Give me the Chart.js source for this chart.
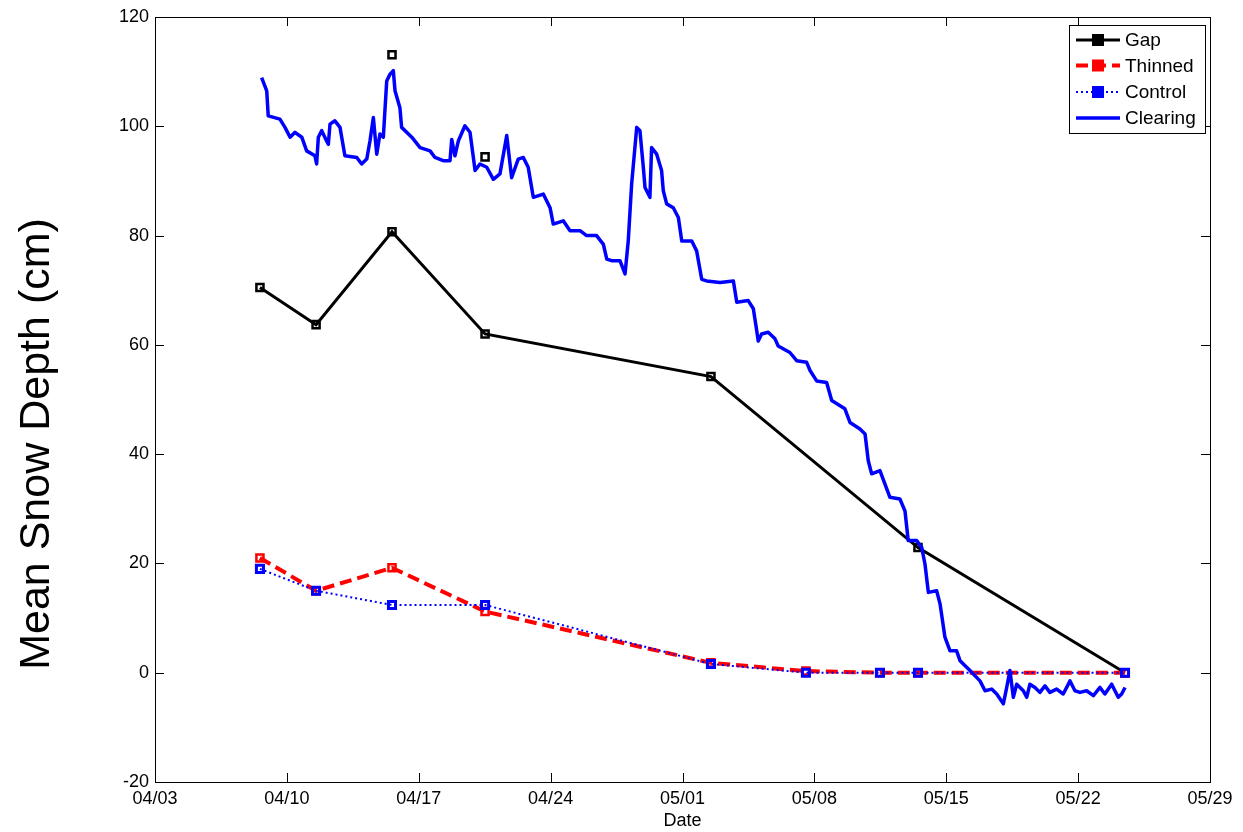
<!DOCTYPE html>
<html>
<head>
<meta charset="utf-8">
<script src="https://cdn.jsdelivr.net/npm/chart.js@4/dist/chart.umd.min.js"></script>
<style>
  html, body { margin: 0; padding: 0; background: #ffffff; }
  #wrap { width: 1243px; height: 832px; }
</style>
</head>
<body>
<div id="wrap"><canvas id="c" width="1243" height="832"></canvas></div>
<script>
// ---- data (x = days since 04/03) ----
const tickLabels = ['04/03','04/10','04/17','04/24','05/01','05/08','05/15','05/22','05/29'];

const gapDays  = [5.57, 8.55, 12.58, 17.52, 29.51, 40.50, 51.49];
const gapDepth = [70.5, 63.7, 80.7, 62.0, 54.2, 22.9, 0.0];

const plotDays     = [5.57, 8.55, 12.58, 17.52, 29.51, 34.55, 38.48, 40.50, 51.49];
const thinnedDepth = [21.0, 15.0, 19.2, 11.2, 1.8, 0.3, 0.0, 0.0, 0.0];
const controlDepth = [19.0, 15.0, 12.4, 12.4, 1.6, 0.0, 0.0, 0.0, 0.0];

const manualDays  = [12.58, 17.52];
const manualDepth = [113.1, 94.4];

const clearingDays = [
  5.66, 5.93, 6.01, 6.63, 6.90, 7.17, 7.43, 7.79, 8.05, 8.49, 8.58, 8.67, 8.85, 9.11, 9.20, 9.29,
  9.55, 9.82, 10.08, 10.71, 10.97, 11.24, 11.41, 11.59, 11.77, 11.94, 12.12, 12.30, 12.47, 12.65,
  12.74, 13.00, 13.09, 13.63, 14.07, 14.60, 14.86, 15.30, 15.66, 15.75, 15.92, 16.10, 16.45, 16.72,
  16.99, 17.25, 17.61, 17.96, 18.31, 18.67, 18.93, 19.28, 19.55, 19.81, 20.08, 20.61, 20.97, 21.14,
  21.67, 22.03, 22.56, 22.91, 23.44, 23.80, 23.98, 24.24, 24.68, 24.95, 25.12, 25.30, 25.57, 25.74,
  25.92, 26.01, 26.27, 26.36, 26.63, 26.89, 26.98, 27.16, 27.51, 27.78, 27.96, 28.49, 28.75, 29.02,
  29.28, 29.99, 30.70, 30.88, 31.49, 31.76, 31.94, 32.02, 32.20, 32.55, 32.91, 33.08, 33.70, 34.06,
  34.59, 34.77, 35.12, 35.65, 35.92, 36.62, 36.89, 37.42, 37.69, 37.86, 38.04, 38.48, 39.01, 39.54,
  39.81, 39.98, 40.43, 40.70, 40.87, 41.05, 41.49, 41.67, 41.93, 42.20, 42.55, 42.73, 43.26, 43.79,
  44.06, 44.41, 44.68, 45.03, 45.21, 45.38, 45.56, 45.74, 46.09, 46.27, 46.44, 46.71, 46.97, 47.24,
  47.50, 47.86, 48.21, 48.57, 48.83, 49.10, 49.45, 49.81, 50.16, 50.42, 50.78, 51.13, 51.31, 51.49
];
const clearingDepth = [
  108.9, 106.5, 101.9, 101.3, 99.8, 98.0, 98.9, 98.0, 95.5, 94.6, 93.1, 98.0, 99.2, 97.3, 96.7, 100.4,
  101.0, 99.8, 94.6, 94.3, 93.1, 94.0, 97.3, 101.6, 94.9, 98.6, 98.0, 108.3, 109.5, 110.2,
  106.5, 103.4, 99.8, 98.0, 96.1, 95.5, 94.3, 93.7, 93.7, 97.6, 94.6, 97.3, 100.1, 98.9,
  91.9, 93.1, 92.5, 90.3, 91.3, 98.3, 90.6, 94.0, 94.3, 92.5, 87.0, 87.6, 85.1, 82.1,
  82.7, 80.9, 80.9, 80.0, 80.0, 78.4, 75.7, 75.4, 75.4, 73.0, 79.0, 89.4, 99.8, 99.2,
  92.5, 88.8, 87.0, 96.1, 94.9, 91.9, 88.2, 85.8, 85.1, 83.3, 79.0, 79.0, 77.2, 72.0,
  71.7, 71.4, 71.7, 67.8, 68.1, 66.6, 62.6, 60.7, 62.0, 62.3, 61.1, 59.8, 58.6, 57.1,
  56.8, 55.3, 53.4, 53.1, 49.8, 48.3, 45.8, 44.6, 43.7, 38.8, 36.4, 37.0, 32.1, 31.8,
  29.6, 24.2, 24.2, 22.9, 19.9, 14.7, 15.0, 12.6, 6.5, 4.0, 4.0, 2.2, 0.4, -1.5,
  -3.3, -3.0, -3.9, -5.7, -2.7, 0.4, -4.5, -2.1, -3.3, -4.5, -2.1, -2.7, -3.6, -2.4,
  -3.6, -3.0, -3.9, -1.5, -3.3, -3.6, -3.3, -4.2, -2.7, -3.9, -2.1, -4.5, -3.9, -2.7
];

const xyPairs = (xs, ys) => xs.map((x, i) => ({ x: x, y: ys[i] }));
const FONT = "'Liberation Sans', Arial, sans-serif";

const frameTicks = {
  id: 'frameTicks',
  afterDatasetsDraw(chart) {
    const { ctx, chartArea: a, scales: { x, y } } = chart;
    ctx.save();
    ctx.strokeStyle = '#000';
    ctx.lineWidth = 1;
    ctx.beginPath();
    const L = 9;
    x.ticks.forEach(t => {
      const px = Math.round(x.getPixelForValue(t.value)) + 0.5;
      ctx.moveTo(px, a.bottom); ctx.lineTo(px, a.bottom - L);
      ctx.moveTo(px, a.top); ctx.lineTo(px, a.top + L);
    });
    y.ticks.forEach(t => {
      const py = Math.round(y.getPixelForValue(t.value)) + 0.5;
      ctx.moveTo(a.left, py); ctx.lineTo(a.left + L, py);
      ctx.moveTo(a.right, py); ctx.lineTo(a.right - L, py);
    });
    ctx.stroke();
    ctx.strokeRect(Math.round(a.left) + 0.5, Math.round(a.top) + 0.5,
                   Math.round(a.right - a.left), Math.round(a.bottom - a.top));
    ctx.restore();
  },
  afterDraw(chart) {
    const ctx = chart.ctx;
    ctx.save();
    // y-axis title
    ctx.translate(37, 444);
    ctx.rotate(-Math.PI / 2);
    ctx.fillStyle = '#000';
    ctx.font = '43px ' + FONT;
    ctx.textAlign = 'center';
    ctx.textBaseline = 'middle';
    ctx.fillText('Mean Snow Depth (cm)', 0, 0);
    ctx.restore();

    // legend
    const bx = 1069, by = 25, bw = 136, bh = 108;
    ctx.save();
    ctx.fillStyle = '#fff';
    ctx.fillRect(bx, by, bw, bh);
    ctx.strokeStyle = '#000';
    ctx.lineWidth = 1;
    ctx.strokeRect(bx + 0.5, by + 0.5, bw, bh);
    const rows = [40, 65.5, 92, 118];
    let r = 0;
    chart.data.datasets.forEach(ds => {
      if (ds.hideInLegend) return;
      const yy = rows[r++];
      ctx.save();
      ctx.strokeStyle = ds.borderColor;
      ctx.lineWidth = ds.borderWidth;
      ctx.setLineDash(ds.borderDash || []);
      ctx.beginPath();
      ctx.moveTo(1076, yy); ctx.lineTo(1120, yy);
      ctx.stroke();
      ctx.setLineDash([]);
      if (ds.pointRadius > 0) {
        const s = ds.pointRadius;
        ctx.fillStyle = ds.pointBorderColor;
        ctx.fillRect(1098 - s - 1, yy - s - 1, 2 * s + 2, 2 * s + 2);
      }
      ctx.restore();
      ctx.fillStyle = '#000';
      ctx.font = '19px ' + FONT;
      ctx.textAlign = 'left';
      ctx.textBaseline = 'middle';
      ctx.fillText(ds.label, 1125, yy + 1);
    });
    ctx.restore();
  }
};

new Chart(document.getElementById('c'), {
  type: 'line',
  data: {
    datasets: [
      {
        label: 'Gap', data: xyPairs(gapDays, gapDepth),
        borderColor: '#000000', borderWidth: 3,
        pointStyle: 'rect', pointRadius: 5, pointBorderWidth: 2.5,
        pointBorderColor: '#000000', pointBackgroundColor: 'rgba(0,0,0,0)',
        order: 4
      },
      {
        label: 'Thinned', data: xyPairs(plotDays, thinnedDepth),
        borderColor: '#ff0000', borderWidth: 4, borderDash: [12, 6],
        pointStyle: 'rect', pointRadius: 5, pointBorderWidth: 2.5,
        pointBorderColor: '#ff0000', pointBackgroundColor: 'rgba(0,0,0,0)',
        order: 3
      },
      {
        label: 'Control', data: xyPairs(plotDays, controlDepth),
        borderColor: '#0000ff', borderWidth: 2, borderDash: [2, 3],
        pointStyle: 'rect', pointRadius: 5, pointBorderWidth: 3,
        pointBorderColor: '#0000ff', pointBackgroundColor: 'rgba(0,0,0,0)',
        order: 2
      },
      {
        label: 'Clearing', data: xyPairs(clearingDays, clearingDepth),
        borderColor: '#0000ff', borderWidth: 3.5,
        pointRadius: 0, borderJoinStyle: 'round',
        order: 1
      },
      {
        label: 'Clearing manual', hideInLegend: true,
        data: xyPairs(manualDays, manualDepth),
        showLine: false, borderColor: '#000000',
        pointStyle: 'rect', pointRadius: 5, pointBorderWidth: 2.5,
        pointBorderColor: '#000000', pointBackgroundColor: 'rgba(0,0,0,0)',
        order: 0
      }
    ]
  },
  options: {
    responsive: false,
    animation: false,
    events: [],
    layout: { padding: { top: 17, right: 33, bottom: 0, left: 0 } },
    plugins: { legend: { display: false }, tooltip: { enabled: false } },
    scales: {
      x: {
        type: 'linear', min: 0, max: 56,
        afterFit: s => { s.height = 50; },
        grid: { display: false, drawTicks: false },
        border: { display: false },
        ticks: {
          stepSize: 7, padding: 6, color: '#000', maxRotation: 0,
          font: { family: FONT, size: 18 },
          callback: v => tickLabels[Math.round(v / 7)]
        },
        title: { display: true, text: 'Date', color: '#000', padding: { top: 1, bottom: 0 },
                 font: { family: FONT, size: 18 } }
      },
      y: {
        min: -20, max: 120,
        afterFit: s => { s.width = 155; },
        grid: { display: false, drawTicks: false },
        border: { display: false },
        ticks: { stepSize: 20, padding: 6, color: '#000', font: { family: FONT, size: 18 } }
      }
    }
  },
  plugins: [frameTicks]
});
</script>
</body>
</html>
